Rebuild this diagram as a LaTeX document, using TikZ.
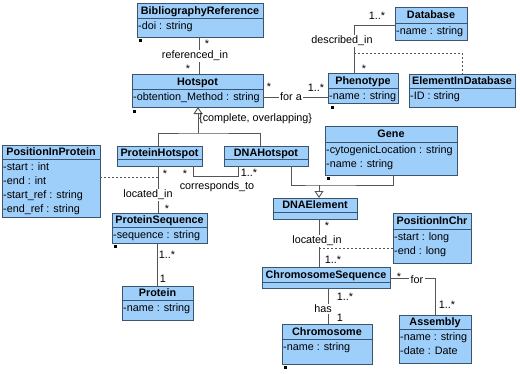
\documentclass[tikz,border=0pt]{standalone}
\usepackage{fontspec}
\setmainfont{Liberation Sans}
\usetikzlibrary{arrows.meta,calc}
\definecolor{boxfill}{RGB}{158,206,250}
\definecolor{boxdraw}{RGB}{60,85,110}
\definecolor{conn}{RGB}{85,85,85}
\tikzset{
 clsbox/.style={draw=boxdraw, fill=boxfill, line width=1pt, inner sep=0pt, outer sep=0pt},
 clsline/.style={draw=boxdraw, line width=1pt},
 clstitle/.style={font=\fontsize{10.8}{13}\selectfont\bfseries, inner sep=0pt, anchor=base},
 clsattr/.style={font=\fontsize{10.8}{14}\selectfont, inner sep=0pt, anchor=base west},
 assoc/.style={draw=conn, line width=0.9pt},
 dashassoc/.style={draw=conn, line width=0.9pt, dash pattern=on 2pt off 2pt},
 gen/.style={draw=conn, line width=0.9pt, -{Triangle[open,length=7pt,width=9pt]}},
 lbl/.style={font=\fontsize{10.8}{13}\selectfont, inner sep=1pt},
 onl/.style={lbl, fill=white, inner sep=1.5pt},
 tinymark/.style={fill=black},
}
% name, left, top, right, sep, bottom, title
\newcommand\umlhead[7]{%
  \pgfmathsetmacro\clsW{#4-#2}\pgfmathsetmacro\clsH{#6-#3}%
  \node[clsbox, minimum width=\clsW pt, minimum height=\clsH pt, anchor=north west] (#1) at (#2,#3) {};
  \draw[clsline] (#2,#5) -- (#4,#5);
  \node[clstitle] (#1-t) at ({(#2+#4)/2},{(#3+#5)/2+3.8}) {#7};
}
% name, left, sep, attribute list
\newcommand\umlattrs[4]{%
  \foreach \attr [count=\k from 0] in {#4}
    \node[clsattr] (#1-a\k) at (#2+1, #3+11.5+14*\k) {\attr};
}
\begin{document}
\begin{tikzpicture}[x=1pt,y=-1pt]
\useasboundingbox[fill=white] (0,0) rectangle (520,373);

% classes
\umlhead{bib}{137}{3}{263}{18}{37}{BibliographyReference}
\umlattrs{bib}{137}{18}{-doi : string}
\umlhead{hot}{132}{74}{263}{89}{107}{Hotspot}
\umlattrs{hot}{132}{89}{-obtention\_Method : string}
\umlhead{db}{395}{7}{467}{23}{40}{Database}
\umlattrs{db}{395}{23}{-name : string}
\umlhead{phen}{328}{73}{398}{88}{103}{Phenotype}
\umlattrs{phen}{328}{88}{-name : string}
\umlhead{eid}{409}{74}{515}{88}{107}{ElementInDatabase}
\umlattrs{eid}{409}{88}{-ID : string}
\umlhead{gene}{325}{126}{457}{142}{175}{Gene}
\umlattrs{gene}{325}{142}{-cytogenicLocation : string,-name : string}
\umlhead{ph}{117}{146}{202}{159}{166}{ProteinHotspot}
\umlhead{dh}{224}{146}{308}{159}{166}{DNAHotspot}
\umlhead{pip}{2}{145}{100}{159}{217}{PositionInProtein}
\umlattrs{pip}{2}{159}{-start : int,-end : int,-start\_ref : string,-end\_ref : string}
\umlhead{ps}{112}{213}{207}{227}{243}{ProteinSequence}
\umlattrs{ps}{112}{227}{-sequence : string}
\umlhead{prot}{122}{286}{193}{300}{320}{Protein}
\umlattrs{prot}{122}{300}{-name : string}
\umlhead{dnae}{273}{198}{357}{212}{219}{DNAElement}
\umlhead{pic}{393}{213}{471}{229}{263}{PositionInChr}
\umlattrs{pic}{393}{229}{-start : long,-end : long}
\umlhead{cs}{262}{267}{390}{282}{288}{ChromosomeSequence}
\umlhead{chr}{282}{324}{372}{339}{364}{Chromosome}
\umlattrs{chr}{282}{339}{-name : string}
\umlhead{asm}{399}{315}{471}{329}{363}{Assembly}
\umlattrs{asm}{399}{329}{-name : string,-date : Date}

% tiny markers
\foreach \mx/\my in {139/39, 133/110, 331/106, 327/177, 114/245, 284/366}
  \fill[tinymark] (\mx,\my) rectangle ++(3,3);

% BibliographyReference -- Hotspot
\draw[assoc] (bib.south -| 199,0) -- (hot.north -| 199,0);
\node[onl] (l-ref) at (195,56) {referenced\_in};
\node[lbl] (m-ref1) at (207,44) {*};
\node[lbl] (m-ref2) at (188,69) {*};

% Hotspot -- Phenotype
\draw[assoc] (hot.east |- 0,97) -- (phen.west |- 0,97);
\node[onl] (l-fora) at (291,97) {for a};
\node[lbl] (m-fora1) at (269,87) {*};
\node[lbl] (m-fora2) at (316,88) {1..*};

% Phenotype -- Database
\draw[assoc] (phen.north -| 354,0) |- (db.west |- 0,25);
\node[onl] (l-desc) at (342,41) {described\_in};
\node[lbl] (m-desc1) at (377,16) {1..*};
\node[lbl] (m-desc2) at (364,69) {*};
\coordinate (descj) at (354,53);
\draw[dashassoc] (descj) -| (eid.north -| 462,0);

% generalization Hotspot
\coordinate (hj) at (198,133);
\draw[gen] (hj) -- (hot.south -| 198,0);
\draw[assoc] (ph.north -| 158,0) |- (hj) -| (dh.north -| 260,0);
\node[lbl, anchor=west] (l-gen) at (198,119) {\{complete, overlapping\}};

% ProteinHotspot -- ProteinSequence
\draw[assoc] (ph.south -| 158,0) -- (ps.north -| 158,0);
\node[onl] (l-loc1) at (148,195) {located\_in};
\node[lbl] (m-loc1a) at (165,174) {*};
\node[lbl] (m-loc1b) at (167,209) {*};
\coordinate (lij) at (158,177);
\draw[dashassoc] (pip.east |- lij) -- (lij);

% corresponds_to
\draw[assoc] (ph.south -| 193,0) -- ++(0,10) -| (dh.south -| 238,0);
\node[lbl] (l-corr) at (217,187) {corresponds\_to};
\node[lbl] (m-corr1) at (185,174) {*};
\node[lbl] (m-corr2) at (249,173) {1..*};

% DNAHotspot, Gene -> DNAElement
\coordinate (gj) at (319,185);
\draw[assoc] (dh.south -| 291,0) |- (gj) -| (gene.south -| 393,0);
\draw[gen] (gj) -- (dnae.north -| 319,0);

% DNAElement -- ChromosomeSequence
\draw[assoc] (dnae.south -| 319,0) -- (cs.north -| 319,0);
\node[onl] (l-loc2) at (317,241) {located\_in};
\node[lbl] (m-loc2a) at (327,226) {*};
\node[lbl] (m-loc2b) at (333,260) {1..*};
\coordinate (lij2) at (319,248);
\draw[dashassoc] (lij2) -- (pic.west |- lij2);

% ChromosomeSequence -- Assembly
\draw[assoc] (cs.east |- 0,278) -| (asm.north -| 435,0);
\node[onl] (l-for) at (417,280) {for};
\node[lbl] (m-for1) at (399,277) {*};
\node[lbl] (m-for2) at (447,305) {1..*};

% ChromosomeSequence -- Chromosome
\draw[assoc] (cs.south -| 328,0) -- (chr.north -| 328,0);
\node[onl] (l-has) at (323,309) {has};
\node[lbl] (m-has1) at (345,297) {1..*};
\node[lbl] (m-has2) at (340,318) {1};

% ProteinSequence -- Protein
\draw[assoc] (ps.south -| 157,0) -- (prot.north -| 157,0);
\node[lbl] (m-pr1) at (167,255) {1..*};
\node[lbl] (m-pr2) at (163,279) {1};
\end{tikzpicture}
\end{document}
